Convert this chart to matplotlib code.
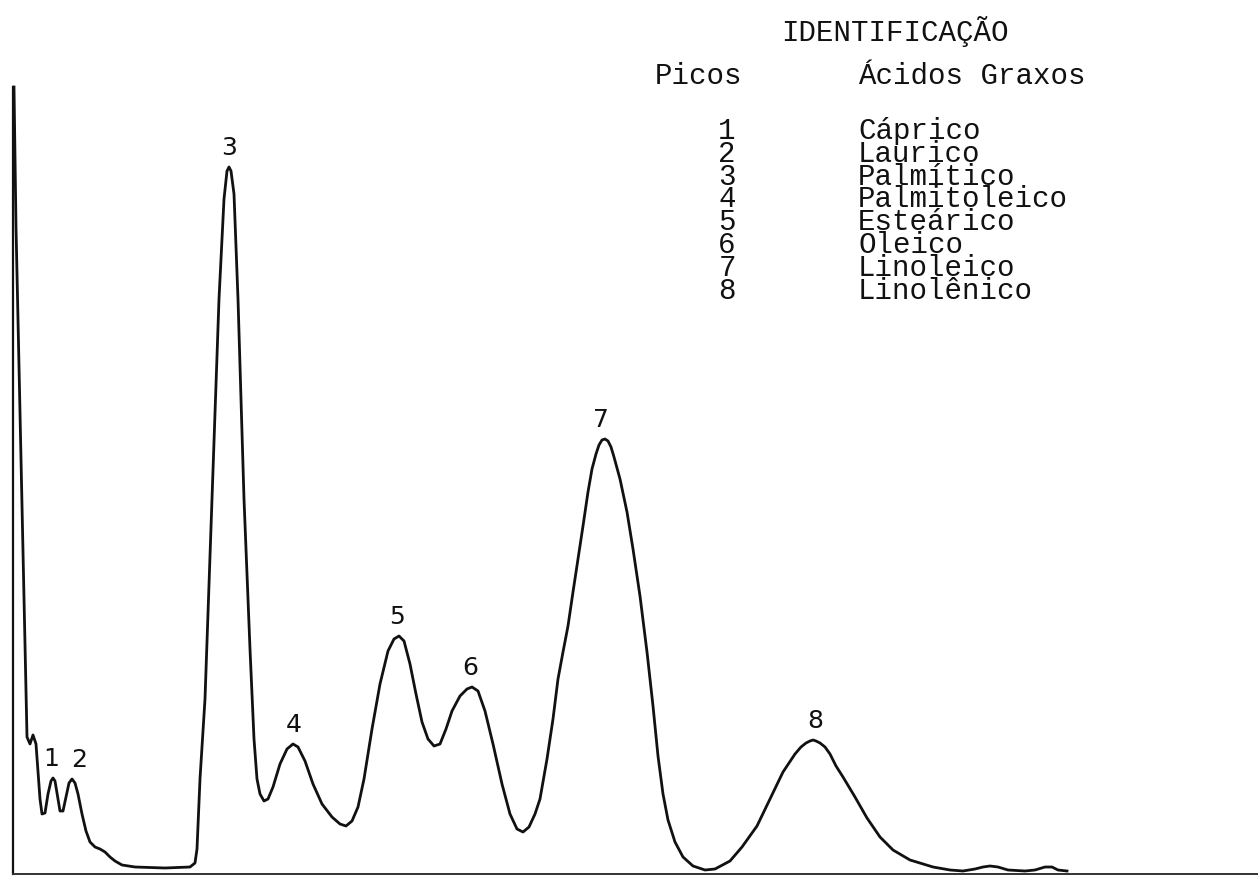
import matplotlib
matplotlib.use('Agg')
import matplotlib.pyplot as plt

# Chromatogram trace (arbitrary units: time, detector signal)
tempo = [1, 3, 14, 17, 20, 23, 27, 29, 32, 35, 38, 40, 42, 45, 47, 50, 53, 56, 59, 62,
         65, 69, 73, 77, 82, 87, 92, 97, 102, 109, 122, 152, 177, 182, 184, 187, 192, 199,
         206, 211, 214, 216, 218, 221, 225, 231, 237, 241, 244, 247, 251, 255, 260, 267,
         274, 280, 285, 292, 300, 309, 319, 327, 333, 339, 345, 351, 359, 367, 375, 381,
         386, 391, 397, 403, 409, 415, 421, 427, 433, 439, 447, 454, 459, 465, 472, 480,
         489, 497, 504, 510, 516, 522, 527, 534, 540, 545, 550, 555, 560, 565, 570, 575,
         579, 583, 586, 589, 592, 595, 598, 601, 607, 614, 620, 627, 634, 640, 645, 650,
         655, 662, 670, 680, 692, 702, 717, 729, 744, 757, 770, 782, 788, 793,
         797, 800, 803, 807, 812, 817, 823, 830, 842, 854, 867, 880, 897, 920, 937, 950,
         962, 970, 977, 985, 995, 1012, 1022, 1032, 1039, 1045, 1054]
sinal = [787, 647, 137, 130, 139, 130, 75, 60, 61, 80, 93, 96, 93, 75, 63, 63, 77, 91, 95, 91,
         80, 60, 43, 32, 27, 25, 22, 17, 13, 9, 7, 6, 7, 11, 25, 95, 175, 375,
         575, 675, 703, 707, 703, 680, 575, 375, 225, 135, 95, 80, 73, 75, 87, 110,
         125, 130, 127, 113, 90, 70, 57, 50, 48, 53, 67, 95, 145, 190, 223, 235,
         238, 233, 210, 180, 152, 135, 128, 130, 145, 163, 178, 185, 187, 183, 163, 130,
         90, 60, 45, 42, 47, 60, 75, 115, 155, 195, 222, 248, 282, 315, 348, 382,
         405, 420, 429, 434, 435, 433, 427, 417, 395, 362, 325, 278, 222, 168, 118, 80,
         54, 32, 17, 8, 4, 5, 13, 27, 48, 75, 102, 120, 127, 131,
         133, 134, 133, 131, 127, 120, 108, 97, 77, 56, 37, 24, 14, 7, 4, 3,
         5, 7, 8, 7, 4, 3, 4, 7, 7, 4, 3]

# Peak apexes and their numbers
picos = ['1', '2', '3', '4', '5', '6', '7', '8']
pico_tempo = [38, 66, 216, 281, 384, 457, 588, 802]
pico_altura = [96, 95, 707, 130, 238, 187, 435, 134]

# Identification table
numeros = ['1', '2', '3', '4', '5', '6', '7', '8']
acidos = ['Cáprico', 'Laurico', 'Palmítico', 'Palmitoleico',
          'Esteárico', 'Oleico', 'Linoleico', 'Linolênico']

W, H = 1258, 878
fig = plt.figure(figsize=(W / 100, H / 100), dpi=100)
ax = fig.add_axes([13 / W, 3 / H, 1245 / W, 787 / H])

# Trace
ax.plot(tempo, sinal, color='#111111', lw=2.0, solid_joinstyle='round', clip_on=False)
ax.set_xlim(0, 1245)
ax.set_ylim(0, 787)

# Peak numbers
for lab, x, y in zip(picos, pico_tempo, pico_altura):
    ax.annotate(lab, (x, y), xytext=(0, 6), textcoords='offset points',
                ha='center', va='bottom', fontsize=18, family='DejaVu Sans',
                color='#111111')

# Axes: only left and bottom lines
for s in ['top', 'right']:
    ax.spines[s].set_visible(False)
ax.spines['left'].set_linewidth(1.6)
ax.spines['left'].set_color('#111111')
ax.spines['bottom'].set_linewidth(1.4)
ax.spines['bottom'].set_color('#333333')
ax.set_xticks([])
ax.set_yticks([])

# Identification text (typewriter)
mono = 'Liberation Mono'
fs = 21


def fx(px):
    return px / W


def fy(py):
    return 1 - py / H


fig.text(fx(895), fy(32), 'IDENTIFICAÇÃO', ha='center', va='center',
         family=mono, fontsize=fs, color='#111111')
fig.text(fx(655), fy(76), 'Picos', ha='left', va='center',
         family=mono, fontsize=fs, color='#111111')
fig.text(fx(858), fy(76), 'Ácidos Graxos', ha='left', va='center',
         family=mono, fontsize=fs, color='#111111')

fig.text(fx(727), fy(117), '\n'.join(numeros), ha='center', va='top',
         family=mono, fontsize=fs, color='#111111', linespacing=0.765)
fig.text(fx(858), fy(117), '\n'.join(acidos), ha='left', va='top',
         family=mono, fontsize=fs, color='#111111', linespacing=0.765,
         multialignment='left')

fig.savefig('out.png', dpi=100, facecolor='white')
